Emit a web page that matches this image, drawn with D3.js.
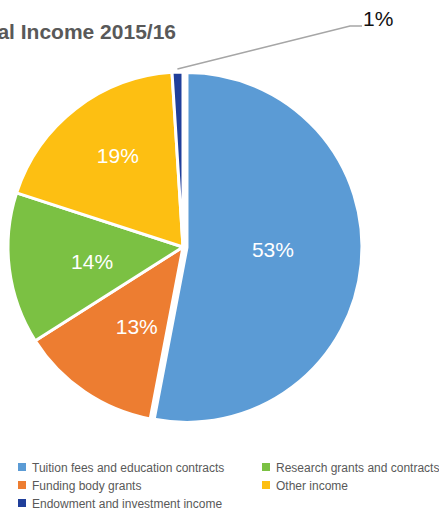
<!DOCTYPE html>
<html>
<head>
<meta charset="utf-8">
<script src="https://cdn.jsdelivr.net/npm/d3@7"></script>
<style>
  body { margin: 0; background: #fff; }
  svg { display: block; font-family: "Liberation Sans", Arial, Helvetica, sans-serif; }
</style>
</head>
<body>
<script>
(function() {

    const width = 439;
    const height = 511;

    // slices, clockwise from 12 o'clock
    const categories = ["Tuition fees and education contracts", "Funding body grants",
        "Research grants and contracts", "Other income", "Endowment and investment income"];
    const values = [53, 13, 14, 19, 1];
    const colors = ["#5B9BD5", "#ED7D31", "#7BC143", "#FDBF12", "#203F9A"];

    // legend is laid out in two columns
    const legendOrder = [0, 2, 1, 3, 4];

    const cx = 183, cy = 247, radius = 175;

    let svg = d3.select("body").append("svg")
        .attr("width", width)
        .attr("height", height);

    // title (cut off at the left edge in the original)
    svg.append("text")
        .attr("x", 176)
        .attr("y", 39)
        .attr("text-anchor", "end")
        .style("font-size", "21px")
        .style("font-weight", "bold")
        .style("fill", "#595959")
        .text("Total Income 2015/16");

    let pie = d3.pie().sort(null).value(d => d);
    let arcs = pie(values);

    let arc = d3.arc().innerRadius(0).outerRadius(radius);

    let g = svg.append("g")
        .attr("transform", "translate(" + cx + "," + cy + ")");

    // the biggest slice is pulled out a little
    function offset(d, i) {
        if (i !== 0) return [0, 0];
        let a = (d.startAngle + d.endAngle) / 2;
        return [Math.sin(a) * 4, -Math.cos(a) * 4];
    }

    g.selectAll("path")
        .data(arcs)
        .enter()
        .append("path")
        .attr("d", arc)
        .attr("transform", (d, i) => "translate(" + offset(d, i) + ")")
        .style("fill", (d, i) => colors[i])
        .style("stroke", "#fff")
        .style("stroke-width", 3)
        .style("stroke-linejoin", "round");

    // labels inside the slices: radius and a small angle nudge (degrees)
    let labelR = [86, 92, 92, 112];
    let labelTurn = [-4, -4, -1.8, 2.2];
    g.selectAll(".lbl")
        .data(arcs.slice(0, 4))
        .enter()
        .append("text")
        .attr("class", "lbl")
        .attr("transform", (d, i) => {
            let a = (d.startAngle + d.endAngle) / 2 + labelTurn[i] * Math.PI / 180;
            let o = offset(d, i);
            let x = Math.sin(a) * labelR[i] + o[0];
            let y = -Math.cos(a) * labelR[i] + o[1];
            return "translate(" + x + "," + y + ")";
        })
        .attr("text-anchor", "middle")
        .attr("dy", "0.36em")
        .style("font-size", "21px")
        .style("fill", "#fff")
        .text(d => d.data + "%");

    // leader line for the tiny slice
    let small = arcs[4];
    let a = (small.startAngle + small.endAngle) / 2;
    let p0 = [Math.sin(a) * (radius + 3), -Math.cos(a) * (radius + 3)];
    let p1 = [350 - cx, 26 - cy];
    let p2 = [362 - cx, 26 - cy];
    g.append("path")
        .attr("d", d3.line()([p0, p1, p2]))
        .style("fill", "none")
        .style("stroke", "#a6a6a6")
        .style("stroke-width", 1.5);

    g.append("text")
        .attr("x", p2[0] + 1)
        .attr("y", p2[1])
        .style("font-size", "21px")
        .style("fill", "#111")
        .text(small.data + "%");

    // legend
    let legend = svg.append("g")
        .selectAll("g")
        .data(legendOrder)
        .enter()
        .append("g")
        .attr("transform", (d, i) => {
            let col = i % 2, row = Math.floor(i / 2);
            return "translate(" + (18 + col * 244) + "," + (463 + row * 18) + ")";
        });

    legend.append("rect")
        .attr("width", 8)
        .attr("height", 8)
        .style("fill", d => colors[d]);

    legend.append("text")
        .attr("x", 14)
        .attr("y", 8.5)
        .style("font-size", "12px")
        .style("fill", "#595959")
        .text(d => categories[d]);

})();
</script>
</body>
</html>
